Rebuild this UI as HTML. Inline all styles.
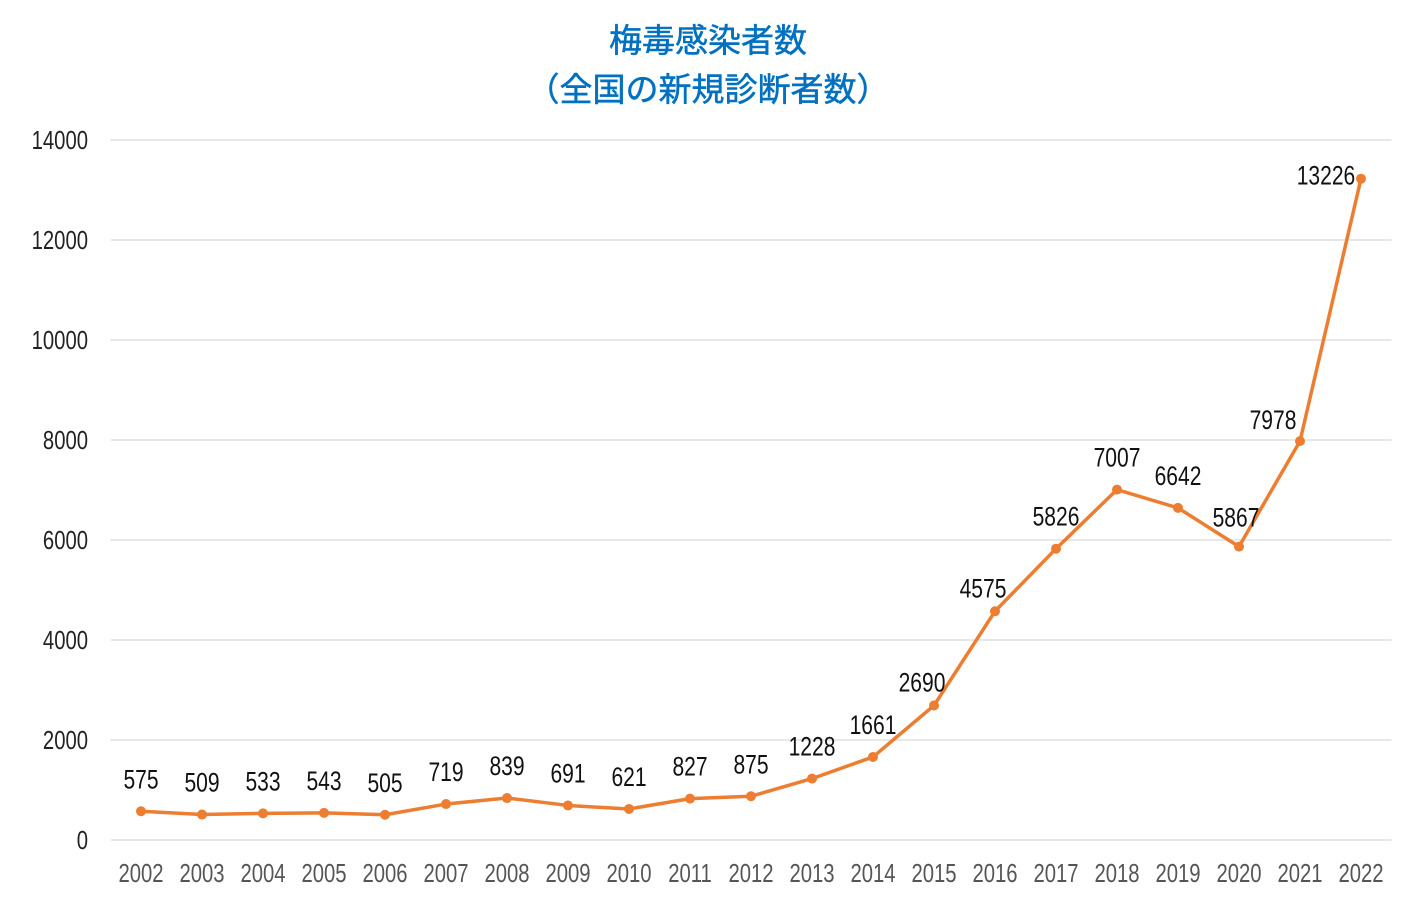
<!DOCTYPE html>
<html><head><meta charset="utf-8"><style>
html,body{margin:0;padding:0;background:#fff;}
svg{display:block;}
.t{font-family:"Liberation Sans","Noto Sans CJK JP",sans-serif;}
.n{font-family:"Liberation Sans",sans-serif;}
</style></head><body>
<svg id="chart" width="1415" height="900" xmlns="http://www.w3.org/2000/svg">
<text class="t" x="708" y="52" text-anchor="middle" font-size="33" fill="#0070C0" stroke="#0070C0" stroke-width="0.5">梅毒感染者数</text>
<text class="t" x="708" y="101" text-anchor="middle" font-size="33" fill="#0070C0" stroke="#0070C0" stroke-width="0.5">（全国の新規診断者数）</text>
<g id="grid"></g>
<g id="yticks"></g>
<g id="xticks"></g>
<g id="series"></g>
</svg>
<script>
const categories=["2002","2003","2004","2005","2006","2007","2008","2009","2010","2011","2012","2013","2014","2015","2016","2017","2018","2019","2020","2021","2022"];
const values=[575,509,533,543,505,719,839,691,621,827,875,1228,1661,2690,4575,5826,7007,6642,5867,7978,13226];
const yTicks=[0,2000,4000,6000,8000,10000,12000,14000];
const NS="http://www.w3.org/2000/svg";
const L=110.5,R=1391.5,T=140,B=840,yMax=14000;
const bw=(R-L)/categories.length;
const x=i=>L+bw*(i+0.5);
const y=v=>B-(v/yMax)*(B-T);
function mk(t,a,p){const e=document.createElementNS(NS,t);for(const k in a)e.setAttribute(k,a[k]);p.appendChild(e);return e;}
function txt(p,tx,ty,anchor,size,fill,str){
 const t=mk('text',{x:0,y:0,'text-anchor':anchor,'font-size':size,fill:fill,class:'n',transform:'translate('+tx+','+ty+') scale(0.78,1)'},p);
 t.textContent=str;return t;
}
const grid=document.getElementById('grid'),yt=document.getElementById('yticks'),xt=document.getElementById('xticks'),s=document.getElementById('series');
yTicks.forEach(v=>{
 const l=mk('line',{x1:L,x2:R,y1:y(v),y2:y(v),stroke:'#d9d9d9','stroke-width':1.3},grid);
 
 
 const t=txt(yt,88,y(v)+9,'end',26,'#222',v);
 
 
});
categories.forEach((c,i)=>{
 const t=txt(xt,x(i),882,'middle',26,'#555',c);
 
 
});
const p=mk('polyline',{points:values.map((v,i)=>x(i)+','+y(v)).join(' '),fill:'none',stroke:'#ED7D31','stroke-width':3.5,'stroke-linejoin':'round'},s);


values.forEach((v,i)=>{
 const c=mk('circle',{cx:x(i),cy:y(v),r:5,fill:'#ED7D31'},s);
 
 
 const n=values.length;
 let dx=0,dy=-23;
 if(i===n-1){dx=-35;dy=6;}
 else if(i===n-2){dx=-27;dy=-12;}
 else if(i===n-3){dx=-3;dy=-20;}
 else if(i===14||i===13){dx=-12;dy=-14;}
 const t=txt(s,x(i)+dx,y(v)+dy,'middle',27,'#111',v);
 
 
});
</script>
</body></html>
